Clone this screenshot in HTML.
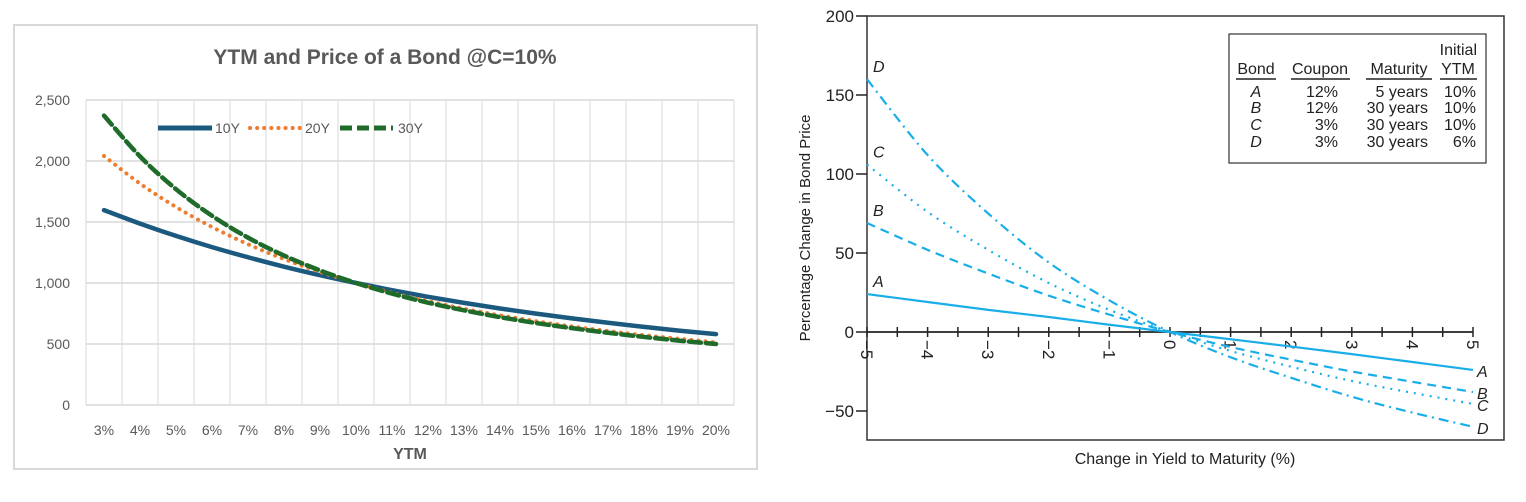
<!DOCTYPE html>
<html><head><meta charset="utf-8"><style>
body{margin:0;width:1526px;height:502px;background:#fff;overflow:hidden;font-family:"Liberation Sans",sans-serif}
svg{position:absolute;left:0;top:0}
.n{font-family:"Liberation Sans Narrow","Liberation Sans",sans-serif}
</style></head><body>
<svg id="s" width="1526" height="502">
<g id="left">
<rect x="14" y="25" width="743" height="444" fill="#fff" stroke="#d9d9d9" stroke-width="2"/>
<text x="385" y="64" text-anchor="middle" font-size="21" font-weight="bold" fill="#595959">YTM and Price of a Bond @C=10%</text>
<g id="lgrid"></g><g id="llines"></g>
<g>
<line x1="158" y1="128" x2="212" y2="128" stroke="#1b5a7e" stroke-width="5"/>
<text x="215" y="133" font-size="14" fill="#595959">10Y</text>
<line x1="250" y1="128" x2="301" y2="128" stroke="#ed7d31" stroke-width="4" stroke-dasharray="0.1 7" stroke-linecap="round"/>
<text x="305" y="133" font-size="14" fill="#595959">20Y</text>
<line x1="340" y1="128" x2="393" y2="128" stroke="#1e6b2a" stroke-width="5" stroke-dasharray="12 5"/>
<text x="398" y="133" font-size="14" fill="#595959">30Y</text>
</g>
<text x="410" y="459" text-anchor="middle" font-size="16" font-weight="bold" fill="#595959">YTM</text>
</g>
<g id="right">
<rect x="867" y="16" width="637" height="424" fill="none" stroke="#333" stroke-width="1.5"/>
<g id="raxes"></g><g id="rlines"></g>
<text transform="translate(810,228) rotate(-90)" text-anchor="middle" font-size="15" fill="#222">Percentage Change in Bond Price</text>
<text class="n" x="1185" y="464" text-anchor="middle" font-size="16" fill="#222">Change in Yield to Maturity (%)</text>
<g font-size="16" fill="#222" class="n">
<rect x="1229" y="34" width="257" height="129" fill="#fff" stroke="#333" stroke-width="1.2"/>
<text x="1477" y="55" text-anchor="end">Initial</text>
<text x="1256" y="74" text-anchor="middle">Bond</text>
<text x="1320" y="74" text-anchor="middle">Coupon</text>
<text x="1399" y="74" text-anchor="middle">Maturity</text>
<text x="1458" y="74" text-anchor="middle">YTM</text>
<g stroke="#222" stroke-width="1.5"><line x1="1236" y1="79" x2="1276" y2="79"/><line x1="1291" y1="79" x2="1350" y2="79"/><line x1="1366" y1="79" x2="1432" y2="79"/><line x1="1440" y1="79" x2="1477" y2="79"/></g>
<g font-style="italic" text-anchor="middle"><text x="1256" y="97">A</text><text x="1256" y="113">B</text><text x="1256" y="130">C</text><text x="1256" y="147">D</text></g>
<g text-anchor="end"><text x="1338" y="97">12%</text><text x="1338" y="113">12%</text><text x="1338" y="130">3%</text><text x="1338" y="147">3%</text>
<text x="1428" y="97">5 years</text><text x="1428" y="113">30 years</text><text x="1428" y="130">30 years</text><text x="1428" y="147">30 years</text>
<text x="1476" y="97">10%</text><text x="1476" y="113">10%</text><text x="1476" y="130">10%</text><text x="1476" y="147">6%</text></g>
</g>
</g>
</svg>
<script>
const NS="http://www.w3.org/2000/svg";
function mk(p,t,a){const e=document.createElementNS(NS,t);for(const k in a)e.setAttribute(k,a[k]);p.appendChild(e);return e;}
// ---- left chart data
const ytmCats=["3%","4%","5%","6%","7%","8%","9%","10%","11%","12%","13%","14%","15%","16%","17%","18%","19%","20%"];
const price10Y=[1597,1487,1386,1294,1211,1134,1064,1000,941,887,837,791,749,710,674,640,609,581];
const price20Y=[2041,1815,1623,1459,1318,1196,1091,1000,920,851,789,735,687,644,606,572,542,513];
const price30Y=[2372,2038,1769,1551,1372,1225,1103,1000,913,839,776,720,672,630,592,558,527,500];
const priceTicks=[0,500,1000,1500,2000,2500];
const priceTickLabels=["0","500","1,000","1,500","2,000","2,500"];
const L={x0:86,x1:734,y0:405,y1:100,max:2500};
const lx=i=>L.x0+(i+0.5)*(L.x1-L.x0)/ytmCats.length;
const ly=v=>L.y0-(v/L.max)*(L.y0-L.y1);
const lg=document.getElementById('lgrid');
for(let i=0;i<=ytmCats.length;i++){const x=L.x0+i*(L.x1-L.x0)/ytmCats.length;
 const e=mk(lg,'line',{x1:x,x2:x,y1:L.y1,y2:L.y0,stroke:'#d9d9d9','stroke-width':1});
 
 }
priceTicks.forEach((v,i)=>{const e=mk(lg,'line',{x1:L.x0,x2:L.x1,y1:ly(v),y2:ly(v),stroke:'#d9d9d9','stroke-width':1.5});
 
 
 const t=mk(lg,'text',{x:70,y:ly(v)+5,'text-anchor':'end','font-size':14,fill:'#595959'});t.textContent=priceTickLabels[i];
 
 });
ytmCats.forEach((c,i)=>{const t=mk(lg,'text',{x:lx(i),y:435,'text-anchor':'middle','font-size':14,fill:'#595959'});t.textContent=c;
 
 });
function smooth(pts){let d=`M${pts[0][0]},${pts[0][1]}`;for(let i=0;i<pts.length-1;i++){const p0=pts[i-1]||pts[i],p1=pts[i],p2=pts[i+1],p3=pts[i+2]||p2;
 d+=` C${p1[0]+(p2[0]-p0[0])/6},${p1[1]+(p2[1]-p0[1])/6} ${p2[0]-(p3[0]-p1[0])/6},${p2[1]-(p3[1]-p1[1])/6} ${p2[0]},${p2[1]}`;}return d;}
const ll=document.getElementById('llines');
[[price10Y,'#1b5a7e','none','series-10y',4.5],[price20Y,'#ed7d31','0.1 7','series-20y',4],[price30Y,'#1e6b2a','12 5','series-30y',4.5]].forEach(s=>{
 const p=mk(ll,'path',{d:smooth(s[0].map((v,i)=>[lx(i),ly(v)])),fill:'none',stroke:s[1],'stroke-width':s[4],'stroke-dasharray':s[2],'stroke-linecap':'round'});
 
 });
// ---- right chart data
const yieldChange=[-5,-4,-3,-2,-1,0,1,2,3,4,5];
const bondA=[24,19,14,9.5,4.6,0,-4.6,-9.2,-14,-19,-24];
const bondB=[69,52,37,23,11,0,-9.5,-17.5,-25,-31.5,-38];
const bondC=[106,76,52,31,14,0,-12,-22,-31,-38.5,-45.5];
const bondD=[160,112,75,44,20,0,-16,-29,-41,-51,-60];
const pctTicks=[-50,0,50,100,150,200];
const R={x0:867,x1:1473,y0:332,ppu:1.58};
const rx=v=>R.x0+(v+5)*(R.x1-R.x0)/10;
const ry=v=>R.y0-v*R.ppu;
const ra=document.getElementById('raxes');
pctTicks.forEach(v=>{mk(ra,'line',{x1:856,x2:867,y1:ry(v),y2:ry(v),stroke:'#222','stroke-width':1.5});
 const t=mk(ra,'text',{x:854,y:ry(v)+6,'text-anchor':'end','font-size':17,fill:'#222',class:'n'});t.textContent=v<0?'\u2212'+(-v):v;
 
 });
const ax=mk(ra,'line',{x1:R.x0,x2:R.x1,y1:R.y0,y2:R.y0,stroke:'#222','stroke-width':1.8});


for(let k=-10;k<=10;k++){const v=k/2;mk(ra,'line',{x1:rx(v),x2:rx(v),y1:327,y2:337,stroke:'#222','stroke-width':1.5});}
yieldChange.forEach(v=>{const t=mk(ra,'text',{transform:`translate(${rx(v)-6},340) rotate(90)`,'font-size':17,fill:'#222',class:'n'});t.textContent=v<0?'\u2212'+(-v):v;
 
 });
const rl=document.getElementById('rlines');
[[bondA,'none','A','curve-bond-a'],[bondB,'9 6','B','curve-bond-b'],[bondC,'2 6','C','curve-bond-c'],[bondD,'10 5 2 5','D','curve-bond-d']].forEach(s=>{
 const pts=s[0].map((v,i)=>[rx(yieldChange[i]),ry(v)]);
 const p=mk(rl,'path',{d:smooth(pts),fill:'none',stroke:'#1aaee8','stroke-width':2.2,'stroke-dasharray':s[1]});
 
 
 const a=mk(rl,'text',{x:pts[0][0]+6,y:pts[0][1]-7,'font-size':16,'font-style':'italic',fill:'#222',class:'n'});a.textContent=s[2];
 
 
 const b=mk(rl,'text',{x:pts[10][0]+4,y:pts[10][1]+7,'font-size':16,'font-style':'italic',fill:'#222',class:'n'});b.textContent=s[2];
 
 });
</script>
</body></html>
